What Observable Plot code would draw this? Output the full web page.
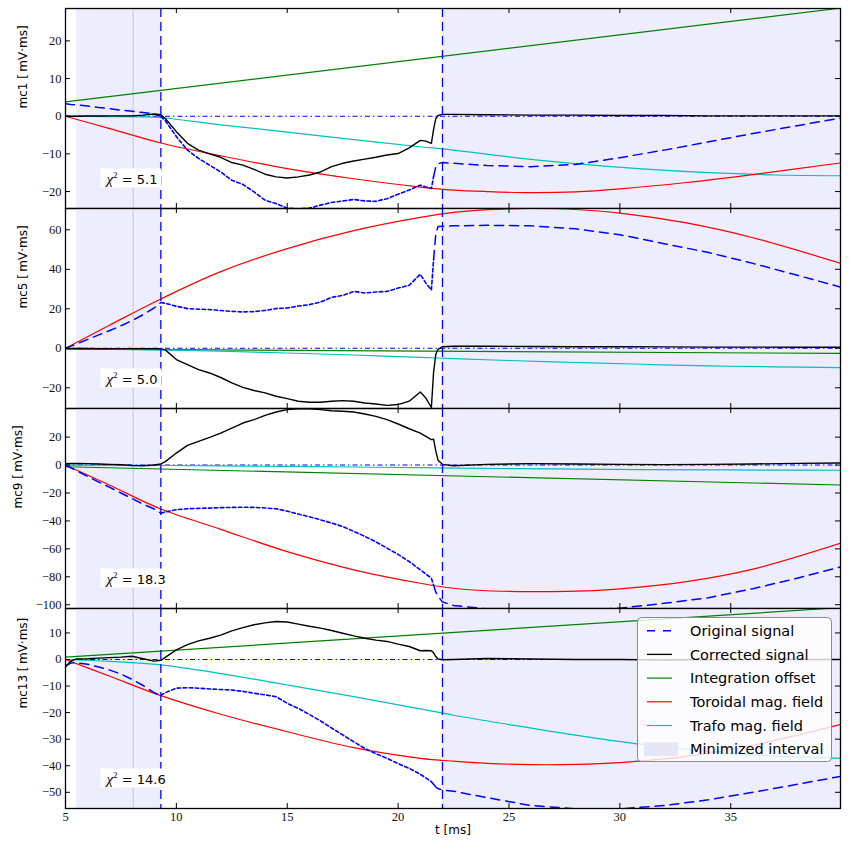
<!DOCTYPE html>
<html><head><meta charset="utf-8">
<script src="https://cdn.jsdelivr.net/npm/d3@7"></script>
<script src="https://cdn.jsdelivr.net/npm/@observablehq/plot@0.6"></script>
<style>
body{margin:0;background:#fff;}
#chart{position:relative;width:851px;height:853px;}
#chart svg{display:block;}
#legend{position:absolute;left:637px;top:617px;}
</style></head><body><div id="chart"></div><script>
// ---------- data ----------
const t = [5, 5.25, 5.5, 6, 6.5, 7, 7.5, 8, 8.5, 9, 9.3, 9.5, 10, 10.5, 11, 11.5, 12, 12.5, 13, 13.5, 14, 14.5, 15, 15.5, 16, 16.5, 17, 17.5, 18, 18.5, 19, 19.5, 20, 20.5, 21, 21.25, 21.5, 21.6, 21.7, 21.8, 22, 22.5, 24, 26, 28, 30, 32, 34, 36, 38, 39.95];
const xDomain = [5, 39.95];
const xTicks = [5, 10, 15, 20, 25, 30, 35];
const intervalStart = [5.5, 22];
const intervalEnd = [9.3, 39.95];
const intervalEdges = [9.3, 22];
const markerT = [8.05];
const noisyEnd = 21.6;

const panelNames = ["mc1", "mc5", "mc9", "mc13"];
const chiValues = ["5.1", "5.0", "18.3", "14.6"];
const yDomain1 = [-24.5, 28.6], yDomain2 = [-30.5, 70.8], yDomain3 = [-102.7, 40.5], yDomain4 = [-56.1, 19.2];
const yTicks1 = [-20, -10, 0, 10, 20];
const yTicks2 = [-20, 0, 20, 40, 60];
const yTicks3 = [-100, -80, -60, -40, -20, 0, 20];
const yTicks4 = [-50, -40, -30, -20, -10, 0, 10];

const corrected1 = [0, 0, 0, 0.05, 0.05, 0.1, 0.1, 0.1, 0.3, 0.6, 0.4,
  -0.6, -4.1, -7.2, -9, -10, -10.9, -12.3, -13, -14.1, -15.4, -16.1, -16.4, -16.1, -15.6, -14.8, -13.4, -12.5, -11.9, -11.4, -10.9, -10.3, -9.9, -8.4, -6.4, -6.6, -7.2,
  -3.5, -0.6, 0.2, 0.5, 0.5, 0.4, 0.3, 0.3, 0.2, 0.2, 0.1, 0.1, 0.1, 0.1];
const original1 = [3.3, 3.1, 3.0, 2.7, 2.3, 2.0, 1.6, 1.3, 1.0, 0.6, -0.1,
  -1.2, -5.4, -9, -11.2, -13, -14.8, -17, -18.1, -20.1, -22.3, -23.2, -24.4, -24.6, -24.4, -23.6, -22.9, -22.5, -22.1, -22.5, -22.6, -21.9, -20.7, -19.6, -18.3, -18.8, -19.2,
  -16, -13.4, -12.6, -12.3, -12.5, -13.1, -13.4, -12.8, -11, -9, -6.8, -4.6, -2.5, -0.5];
const corrected2 = [0, -0.1, -0.1, -0.1, -0.2, -0.2, -0.2, -0.2, -0.2, -0.2, -0.2,
  -0.8, -5.7, -8.3, -10.8, -12.5, -14.8, -17.5, -19.8, -21.4, -22.6, -24.3, -25.5, -26.8, -27.3, -27.3, -26.8, -26.5, -26.8, -27.7, -28.2, -28.9, -28.5, -26.8, -22.1, -25.2, -30,
  -12, -3, -0.5, 0.8, 1, 1, 0.9, 0.8, 0.8, 0.7, 0.6, 0.6, 0.5, 0.5];
const original2 = [0, 1.1, 2.2, 4.5, 6.8, 9, 11.4, 14, 17, 20.5, 23.2,
  22.8, 21.3, 20.1, 19.8, 19.6, 19.1, 18.7, 18.4, 18.6, 19.2, 20.1, 20.4, 21.4, 22.1, 23.4, 25.8, 26.8, 28.8, 28, 28.5, 28.8, 30.5, 31.9, 37.5, 33, 29.5,
  45, 58, 61.7, 61.8, 62, 62.3, 62, 60.5, 57.5, 53, 48.5, 43, 37, 31];
const corrected3 = [1, 1.1, 1.2, 1, 0.8, 0.5, 0.2, -0.3, -0.5, 0, 0.8,
  2.5, 8.6, 14.1, 17, 19.8, 22.9, 26.5, 30.1, 32.5, 35.6, 38, 39.7, 40.2, 40.2, 39.7, 38.9, 38.5, 38, 36.6, 34.9, 32.5, 29.4, 26, 22.9, 20.5, 18.2,
  18.5, 10, 3.5, 0.5, -0.5, 0.5, 1, 0.8, 0.5, 0.3, 0.5, 0.8, 1.2, 1.5];
const original3 = [-0.5, -2, -4, -8.1, -12.2, -16, -20, -24, -28, -31.5, -34.4,
  -33.5, -32, -31.3, -31, -30.8, -30.5, -30.3, -30.2, -30.3, -30.7, -31.3, -33, -35.1, -37, -39.2, -41.5, -44, -47.5, -51.1, -55, -59.5, -64, -69.1, -75, -78, -81,
  -86, -91, -94, -98, -100.5, -103, -104, -104, -102.5, -99, -95, -88.5, -81, -73];
const corrected4 = [-2.8, -0.5, 0.2, 0.3, 0.5, 0.7, 0.9, 1.2, 0.3, -0.6, -0.3,
  0.8, 3.6, 5.6, 7, 8, 9.2, 10.8, 12, 13.1, 13.8, 14.3, 14.1, 13.3, 12.5, 11.8, 10.9, 9.9, 8.9, 8, 7.3, 6.8, 5.8, 4.9, 3.3, 3.4, 3.3,
  2.5, 1.1, 0.2, -0.1, 0, 0.4, 0.2, 0, 0, -0.2, -0.1, 0, 0, 0];
const original4 = [-2.3, -1.3, -1.2, -1.8, -2.8, -4, -5.5, -7.5, -9.8, -12.5, -13.5,
  -12.5, -10.8, -10.6, -10.8, -11.1, -11.3, -11.5, -12, -12.7, -13.3, -14, -16.5, -18.4, -20.7, -23.1, -25.8, -28.4, -31, -33.5, -35.5, -37.2, -39.2, -41, -43.2, -44.6, -46,
  -47, -48, -48.6, -49.2, -49.6, -52, -55, -56.2, -56.2, -55, -52.8, -50, -47, -44];

const offsetT = [5, 39.95];
const offset1 = [3.8, 28.7], offset2 = [-0.4, -2.6], offset3 = [-1.2, -14.3], offset4 = [0.86, 19.5];

const torT = [5, 7, 9.3, 12, 15, 18, 21, 22.5, 24, 26, 28, 30, 33, 36, 39.95];
const tor1 = [0, -3.3, -7.1, -10.5, -13.9, -16.6, -18.8, -19.6, -20.0, -20.3, -20.1, -19.3, -17.6, -15.5, -12.4];
const tor2 = [0, 11.8, 25, 38.8, 50.5, 59.6, 66.3, 68.8, 70.2, 70.8, 70.3, 68.5, 63.5, 56, 43];
const tor3 = [0, -14.5, -31.5, -46, -62, -75, -84.6, -88.2, -90, -90.6, -90.3, -88.6, -83.5, -74.5, -56];
const tor4 = [0, -6.3, -13.6, -20.6, -27.2, -33.2, -37.2, -38.3, -39.1, -39.6, -39.5, -38.8, -36.5, -32.3, -24.5];

const trT = [5, 7, 9.3, 12, 15, 18, 21, 22.5, 25, 28, 31, 34, 37, 39.95];
const tr1 = [0, -0.1, -0.4, -2.3, -4.2, -6.2, -8.1, -9.0, -10.8, -12.6, -14.0, -15.0, -15.6, -15.8];
const tr2 = [0, -0.4, -0.8, -1.5, -2.4, -3.4, -4.6, -5.2, -6.2, -7.2, -8.1, -8.9, -9.4, -9.8];
const tr3 = [0, -0.1, -0.3, -0.6, -1.0, -1.4, -1.9, -2.2, -2.5, -2.9, -3.2, -3.4, -3.6, -3.7];
const tr4 = [0, -0.7, -2, -5.3, -9.6, -14, -18.6, -21, -24.5, -28.5, -32, -34.7, -36.4, -37.2];

const legendNames = ["Original signal", "Corrected signal", "Integration offset", "Toroidal mag. field", "Trafo mag. field", "Minimized interval"];

// ---------- styles ----------
const W = 851, ML = 65, MR = 11, PH = 200;
const BLUE = "#0000ff", GREEN = "#008000", RED = "#ff0000", CYAN = "#00bfbf", SHADE = "#ededfd";
const CHI_PREFIX = "\u03c72 = ";
const fmt = d => d < 0 ? "\u2212" + (-d) : String(d);
const pts = (xs, ys) => xs.map((x, k) => ({x, y: ys[k]}));

function panel(p) {
  const marginTop = p.top ? 8 : 0;
  const marginBottom = p.bottom ? 45 : 0;
  const iw = W - ML - MR;
  const sig = t.map((x, k) => ({x, c: p.corrected[k], o: p.original[k]}));
  const pre = sig.filter(d => d.x <= intervalEdges[0]);
  const mid = sig.filter(d => d.x >= intervalEdges[0] && d.x <= noisyEnd);
  const post = sig.filter(d => d.x >= noisyEnd);
  const intervals = intervalStart.map((s, k) => ({s, e: intervalEnd[k]}));
  const marks = [
    Plot.rect(intervals, {x1: "s", x2: "e", fill: SHADE}),
    Plot.ruleX(markerT, {stroke: "#c6c6d8", strokeWidth: 1}),
    Plot.ruleY([0], {stroke: BLUE, strokeWidth: 1.1, strokeDasharray: "5,3,1.5,3"}),
    Plot.line(pts(offsetT, p.offset), {x: "x", y: "y", stroke: GREEN, strokeWidth: 1.2, clip: true}),
    Plot.line(pts(trT, p.trafo), {x: "x", y: "y", stroke: CYAN, strokeWidth: 1.2, curve: "catmull-rom", clip: true}),
    Plot.line(pts(torT, p.toroidal), {x: "x", y: "y", stroke: RED, strokeWidth: 1.2, curve: "catmull-rom", clip: true}),
    Plot.line(pre, {x: "x", y: "o", stroke: BLUE, strokeWidth: 1.5, strokeDasharray: "9,6", clip: true}),
    Plot.line(mid, {x: "x", y: "o", stroke: BLUE, strokeWidth: 1.6, strokeDasharray: "3.5,2.5", clip: true}),
    Plot.line(post, {x: "x", y: "o", stroke: BLUE, strokeWidth: 1.5, strokeDasharray: "9,6", clip: true}),
    Plot.line(sig, {x: "x", y: "c", stroke: "black", strokeWidth: 1.4, clip: true}),
    Plot.ruleX(intervalEdges, {stroke: BLUE, strokeWidth: 1.3, strokeDasharray: "9,5"}),
    Plot.frame({stroke: "black", strokeWidth: 1.3}),
    Plot.tickY(p.ticks, {y: d => d, insetRight: iw - 5, stroke: "black"}),
    Plot.tickY(p.ticks, {y: d => d, insetLeft: iw - 5, stroke: "black"}),
    Plot.tickX(xTicks, {x: d => d, insetBottom: PH - 5, stroke: "black"}),
    Plot.tickX(xTicks, {x: d => d, insetTop: PH - 5, stroke: "black"}),
    Plot.text(p.ticks, {y: d => d, text: fmt, frameAnchor: "left", textAnchor: "end", dx: -4, fontFamily: "Liberation Serif", fontSize: 12.5, fill: "#111"}),
    Plot.text([p.name + " [\u2009mV\u00b7ms]"], {text: d => d, frameAnchor: "left", dx: p.labelDx, rotate: -90, fontFamily: "DejaVu Sans", fontSize: 12, fill: "black"}),
    Plot.text([CHI_PREFIX + p.chi], {text: d => d, frameAnchor: "bottom-left", dx: 41, dy: -25, textAnchor: "start", fontFamily: "DejaVu Sans", fontSize: 13, fill: "black"})
  ];
  if (p.bottom) {
    marks.push(
      Plot.text(xTicks, {x: d => d, text: fmt, frameAnchor: "bottom", dy: 12, fontFamily: "Liberation Serif", fontSize: 12.5, fill: "#111"}),
      Plot.text(["t [ms]"], {text: d => d, frameAnchor: "bottom", dy: 25, fontFamily: "DejaVu Sans", fontSize: 12, fill: "black"})
    );
  }
  return Plot.plot({
    width: W, height: PH + marginTop + marginBottom,
    marginLeft: ML, marginRight: MR, marginTop, marginBottom,
    x: {domain: xDomain, axis: null},
    y: {domain: p.domain, axis: null},
    style: {background: "transparent", overflow: "visible"},
    marks
  });
}

const chart = document.getElementById("chart");
const cfgs = [
  {name: panelNames[0], chi: chiValues[0], domain: yDomain1, ticks: yTicks1, corrected: corrected1, original: original1, offset: offset1, toroidal: tor1, trafo: tr1, top: true, labelDx: -42},
  {name: panelNames[1], chi: chiValues[1], domain: yDomain2, ticks: yTicks2, corrected: corrected2, original: original2, offset: offset2, toroidal: tor2, trafo: tr2, labelDx: -42},
  {name: panelNames[2], chi: chiValues[2], domain: yDomain3, ticks: yTicks3, corrected: corrected3, original: original3, offset: offset3, toroidal: tor3, trafo: tr3, labelDx: -47},
  {name: panelNames[3], chi: chiValues[3], domain: yDomain4, ticks: yTicks4, corrected: corrected4, original: original4, offset: offset4, toroidal: tor4, trafo: tr4, bottom: true, labelDx: -42}
];
cfgs.forEach(c => chart.appendChild(panel(c)));

// chi-square labels: italic chi with superscript, white box behind
const NS = "http://www.w3.org/2000/svg";
Array.from(chart.querySelectorAll("text")).filter(tx => tx.textContent.startsWith(CHI_PREFIX)).forEach(tx => {
  const val = tx.textContent.slice(CHI_PREFIX.length);
  while (tx.firstChild) tx.removeChild(tx.firstChild);
  const a = document.createElementNS(NS, "tspan");
  a.setAttribute("font-family", "Liberation Serif"); a.setAttribute("font-style", "italic"); a.setAttribute("font-size", "15");
  a.textContent = "\u03c7";
  const b = document.createElementNS(NS, "tspan");
  b.setAttribute("font-family", "Liberation Serif"); b.setAttribute("font-size", "9"); b.setAttribute("dy", "-6");
  b.textContent = "2";
  const c = document.createElementNS(NS, "tspan");
  c.setAttribute("dy", "6");
  c.textContent = " = " + val;
  tx.append(a, b, c);
  const bb = tx.getBBox();
  const r = document.createElementNS(NS, "rect");
  r.setAttribute("x", bb.x - 4); r.setAttribute("y", bb.y - 1);
  r.setAttribute("width", bb.width + 8); r.setAttribute("height", bb.height + 2);
  r.setAttribute("fill", "white");
  if (tx.getAttribute("transform")) r.setAttribute("transform", tx.getAttribute("transform"));
  tx.parentNode.insertBefore(r, tx);
});

// legend
const lg = d3.create("svg").attr("id", "legend").attr("width", 196).attr("height", 146);
lg.append("rect").attr("x", 0.5).attr("y", 0.5).attr("width", 194).attr("height", 144).attr("rx", 4)
  .attr("fill", "rgba(255,255,255,0.8)").attr("stroke", "#8a8a8a");
const swatch = [
  {stroke: BLUE, dash: "8,8", w: 1.5}, {stroke: "black", w: 1.3}, {stroke: GREEN, w: 1.2},
  {stroke: RED, w: 1.2}, {stroke: CYAN, w: 1.2}, {patch: "#e6e6f6"}
];
legendNames.forEach((name, i) => {
  const y = 13.7 + i * 23.7;
  const s = swatch[i];
  if (s.patch) {
    lg.append("rect").attr("x", 7).attr("y", y - 7).attr("width", 34).attr("height", 14).attr("fill", s.patch);
  } else {
    lg.append("line").attr("x1", 10).attr("x2", 35).attr("y1", y).attr("y2", y)
      .attr("stroke", s.stroke).attr("stroke-width", s.w).attr("stroke-dasharray", s.dash || null);
  }
  lg.append("text").attr("x", 53).attr("y", y).attr("dy", "0.36em")
    .attr("font-family", "DejaVu Sans").attr("font-size", 14.5).attr("fill", "black").text(name);
});
chart.appendChild(lg.node());
</script></body></html>
